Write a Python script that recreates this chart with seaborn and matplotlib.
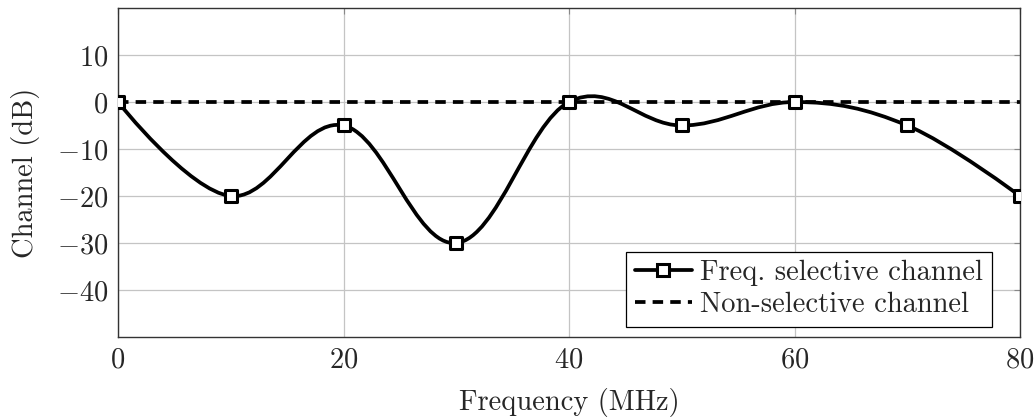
import numpy as np
import matplotlib
matplotlib.use("Agg")
import matplotlib.pyplot as plt
from matplotlib.path import Path
from matplotlib.patches import PathPatch
from matplotlib.lines import Line2D
import seaborn as sns

# ---- data ----
freq_mhz = [0, 10, 20, 30, 40, 50, 60, 70, 80]
channel_db = [0, -20, -5, -30, 0, -5, 0, -5, -20]
flat_freq = [0, 80]
flat_db = [0, 0]
x_ticks = [0, 20, 40, 60, 80]
y_ticks = [-40, -30, -20, -10, 0, 10]
series_labels = ["Freq. selective channel", "Non-selective channel"]

sns.set_style("white")
plt.rcParams["font.family"] = ["cmr10", "DejaVu Serif"]
plt.rcParams["mathtext.fontset"] = "cm"
plt.rcParams["axes.formatter.use_mathtext"] = True
plt.rcParams["axes.unicode_minus"] = True

FS = 20.5
LW = 2.7
DASH = (2.8, 1.9)
fig = plt.figure(figsize=(10.36, 4.19), dpi=100)
ax = fig.add_axes([118/1036, 1-337/419, (1020-118)/1036, (337-8)/419])

# smooth curve like pgfplots 'smooth' (tension 0.55)
pts = np.column_stack([freq_mhz, channel_db]).astype(float)
t = 0.55 / 3.0
verts = [tuple(pts[0])]
codes = [Path.MOVETO]
n = len(pts)
for i in range(n - 1):
    p0 = pts[i]
    p1 = pts[i + 1]
    prev = pts[i - 1] if i > 0 else pts[i]
    nxt = pts[i + 2] if i + 2 < n else pts[i + 1]
    c1 = p0 + t * (p1 - prev) if i > 0 else p0
    c2 = p1 - t * (nxt - p0) if i + 2 < n else p1
    verts += [tuple(c1), tuple(c2), tuple(p1)]
    codes += [Path.CURVE4] * 3
ax.add_patch(PathPatch(Path(verts, codes), facecolor="none", edgecolor="black",
                       lw=LW, zorder=3))

sns.lineplot(x=flat_freq, y=flat_db, ax=ax, color="black", lw=LW,
             dashes=False, zorder=2, legend=False)
ax.lines[-1].set_dashes(DASH)

sns.scatterplot(x=freq_mhz, y=channel_db, ax=ax, marker="s", s=66,
                facecolor="white", edgecolor="black", linewidth=2.2, zorder=4)

ax.set_xlim(0, 80)
ax.set_ylim(-50, 20)
ax.set_xticks(x_ticks)
ax.set_yticks(y_ticks)
ax.grid(True, color="#c4c4c4", lw=0.9)
ax.set_axisbelow(True)
for s in ax.spines.values():
    s.set_color("#333333")
    s.set_linewidth(1.0)
ax.tick_params(axis="both", direction="in", length=4, width=0.8, color="#888888",
               labelsize=FS, pad=7, top=True, right=True)
ax.set_xlabel("Frequency (MHz)", fontsize=FS, labelpad=11)
ax.set_ylabel("Channel (dB)", fontsize=FS, labelpad=12)

handles = [
    Line2D([], [], color="black", lw=LW, marker="s", markersize=8,
           markerfacecolor="white", markeredgecolor="black", markeredgewidth=2.2),
    Line2D([], [], color="black", lw=LW, dashes=DASH),
]
leg = ax.legend(handles, series_labels, loc="lower right",
                bbox_to_anchor=((992-118)/902, (337-327)/329), borderaxespad=0,
                fontsize=FS, frameon=True, fancybox=False, handlelength=2.0,
                handletextpad=0.3, borderpad=0.3, labelspacing=0.2)
leg.get_frame().set_edgecolor("black")
leg.get_frame().set_linewidth(0.9)
leg.get_frame().set_alpha(1)

fig.savefig("out.png", dpi=100)
